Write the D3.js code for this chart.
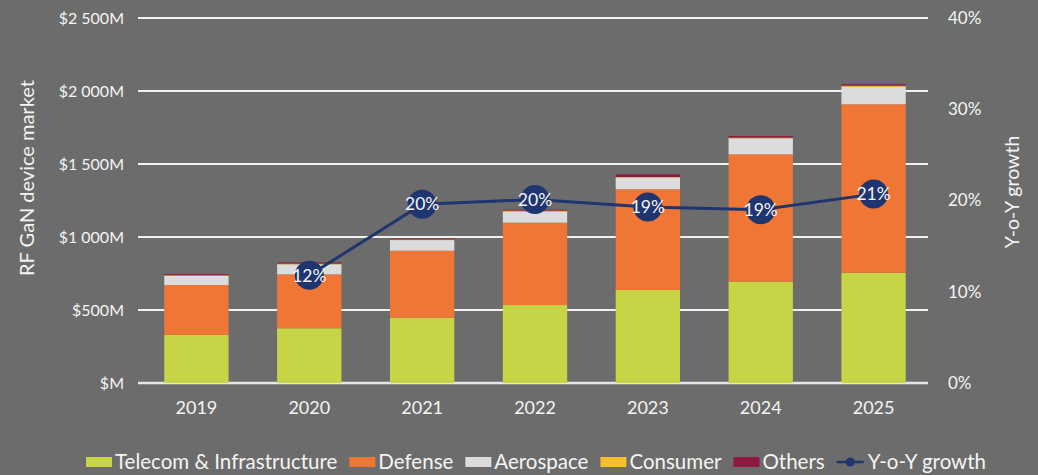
<!DOCTYPE html>
<html>
<head>
<meta charset="utf-8">
<script src="https://cdn.jsdelivr.net/npm/d3@7"></script>
<style>
  html, body { margin: 0; padding: 0; background: #6c6c6c; }
  svg { display: block; }
  text { font-family: Lato, "Open Sans", sans-serif; fill: #f4f4f4; }
</style>
</head>
<body>
<svg id="chart" width="1038" height="475"></svg>
<script>
// RF GaN device market by application, $M, with year-over-year growth
const years      = ["2019", "2020", "2021", "2022", "2023", "2024", "2025"];
const telecom    = [330, 375, 447, 534, 637, 694, 755];
const defense    = [341, 369, 459, 564, 690, 872, 1154];
const aerospace  = [62, 69, 73, 75, 81, 110, 120];
const consumer   = [5, 5, 4, 8, 3, 5, 8];
const others     = [8, 8, 6, 6, 18, 11, 10];
const growth     = [null, 11.8, 19.6, 20.1, 19.3, 19.0, 20.7];

const seriesNames  = ["Telecom & Infrastructure", "Defense", "Aerospace", "Consumer", "Others"];
const seriesValues = [telecom, defense, aerospace, consumer, others];
const seriesColors = ["#c6d445", "#ef7634", "#dcdcdc", "#f6c02c", "#8e1a44"];
const lineColor = "#1f3570";

const leftTicks  = [0, 500, 1000, 1500, 2000, 2500];
const leftLabels = ["$M", "$500M", "$1 000M", "$1 500M", "$2 000M", "$2 500M"];
const rightTicks = [0, 10, 20, 30, 40];

const svg = d3.select("#chart");
const plot = { left: 140, right: 930, top: 18, bottom: 383 };

const x = d3.scaleBand()
  .domain(years)
  .range([plot.left, plot.right])
  .paddingInner(0.43)
  .paddingOuter(0.215);

const y = d3.scaleLinear().domain([0, 2500]).range([plot.bottom, plot.top]);
const y2 = d3.scaleLinear().domain([0, 40]).range([plot.bottom, plot.top]);

// gridlines
svg.append("g")
  .selectAll("line")
  .data(leftTicks)
  .join("line")
  .attr("x1", plot.left - 2)
  .attr("x2", plot.right - 2)
  .attr("y1", d => y(d))
  .attr("y2", d => y(d))
  .attr("stroke", d => d === 0 ? "#e6e6e6" : "#f0f0f0")
  .attr("stroke-width", d => d === 0 ? 2.5 : 2);

// left axis
const leftAxis = d3.axisLeft(y)
  .tickValues(leftTicks)
  .tickFormat((d, i) => leftLabels[i])
  .tickSize(0)
  .tickPadding(17);
const gl = svg.append("g").attr("transform", `translate(${plot.left + 1},0)`).call(leftAxis);
gl.select(".domain").remove();
gl.selectAll("text").style("font-size", "16px").attr("fill", "#f4f4f4");

// right axis
const rightAxis = d3.axisRight(y2)
  .tickValues(rightTicks)
  .tickFormat(d => d + "%")
  .tickSize(0)
  .tickPadding(18);
const gr = svg.append("g").attr("transform", `translate(${plot.right},0)`).call(rightAxis);
gr.select(".domain").remove();
gr.selectAll("text").style("font-size", "17px").attr("fill", "#f4f4f4");

// bottom axis
const bottomAxis = d3.axisBottom(x).tickSize(0).tickPadding(18);
const gb = svg.append("g").attr("transform", `translate(0,${plot.bottom})`).call(bottomAxis);
gb.select(".domain").remove();
gb.selectAll("text").style("font-size", "18px").attr("fill", "#f4f4f4");

// axis titles
svg.append("text")
  .attr("transform", "translate(34,178) rotate(-90)")
  .attr("text-anchor", "middle")
  .style("font-size", "20px")
  .text("RF GaN device market");

svg.append("text")
  .attr("transform", "translate(1019,192) rotate(-90)")
  .attr("text-anchor", "middle")
  .style("font-size", "19.5px")
  .text("Y-o-Y growth");

// stacked bars
const rows = years.map((yr, i) => {
  const r = { year: yr };
  seriesNames.forEach((n, k) => { r[n] = seriesValues[k][i]; });
  return r;
});
const stacked = d3.stack().keys(seriesNames)(rows);

svg.append("g")
  .selectAll("g")
  .data(stacked)
  .join("g")
  .attr("fill", (d, i) => seriesColors[i])
  .selectAll("rect")
  .data(d => d)
  .join("rect")
  .attr("x", d => x(d.data.year))
  .attr("width", x.bandwidth())
  .attr("y", d => y(d[1]))
  .attr("height", d => y(d[0]) - y(d[1]));

// growth line
const pts = years.map((yr, i) => ({ year: yr, v: growth[i] })).filter(d => d.v !== null);
const cx = d => x(d.year) + x.bandwidth() / 2;

svg.append("path")
  .datum(pts)
  .attr("fill", "none")
  .attr("stroke", lineColor)
  .attr("stroke-width", 3)
  .attr("d", d3.line().x(cx).y(d => y2(d.v)));

const dots = svg.append("g").selectAll("g").data(pts).join("g")
  .attr("transform", d => `translate(${cx(d)},${y2(d.v)})`);
dots.append("circle").attr("r", 14.5).attr("fill", lineColor);
dots.append("text")
  .attr("text-anchor", "middle")
  .attr("dy", "0.36em")
  .style("font-size", "17.5px")
  .text(d => Math.round(d.v) + "%");

// legend
const legend = svg.append("g");
const legendFont = "20.5px";
let lx = 86;
const ly = 457;
seriesNames.forEach((n, i) => {
  legend.append("rect")
    .attr("x", lx).attr("y", ly)
    .attr("width", 26).attr("height", 10)
    .attr("fill", seriesColors[i]);
  const t = legend.append("text")
    .attr("x", lx + 29).attr("y", ly + 12)
    .style("font-size", legendFont)
    .text(n);
  lx += 29 + t.node().getComputedTextLength() + 12;
});
legend.append("line")
  .attr("x1", lx).attr("x2", lx + 27)
  .attr("y1", ly + 5).attr("y2", ly + 5)
  .attr("stroke", lineColor).attr("stroke-width", 2.5);
legend.append("circle")
  .attr("cx", lx + 13.5).attr("cy", ly + 5).attr("r", 4.5)
  .attr("fill", lineColor);
legend.append("text")
  .attr("x", lx + 31).attr("y", ly + 12)
  .style("font-size", legendFont)
  .text("Y-o-Y growth");
</script>
</body>
</html>
